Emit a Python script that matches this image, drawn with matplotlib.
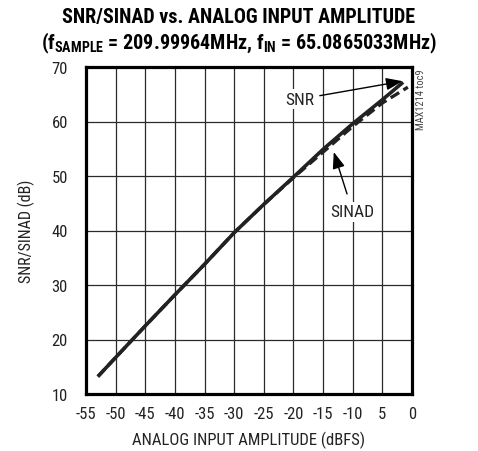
import matplotlib
matplotlib.use("Agg")
import matplotlib.pyplot as plt

# Data (dBFS input amplitude vs. dB)
snr_x = [-53.0, -50.0, -45.0, -40.0, -35.0, -30.0, -25.0, -20.0, -15.0, -10.0, -5.0, -1.5]
snr_y = [13.2, 16.7, 22.5, 28.2, 33.8, 39.6, 44.8, 49.8, 54.9, 59.6, 64.0, 67.2]
sinad_x = [-53.0, -50.0, -45.0, -40.0, -35.0, -30.0, -25.0, -20.0, -15.0, -10.0, -5.0, -0.7]
sinad_y = [13.2, 16.7, 22.5, 28.2, 33.8, 39.6, 44.8, 49.7, 54.4, 59.1, 63.4, 66.3]

x_ticks = [-55, -50, -45, -40, -35, -30, -25, -20, -15, -10, -5, 0]
x_tick_labels = ["-55", "-50", "-45", "-40", "-35", "-30", "-25", "-20", "-15", "-10", "5", "0"]
y_ticks = [10, 20, 30, 40, 50, 60, 70]

COND = ["Roboto Condensed", "DejaVu Sans"]
plt.rcParams["font.family"] = COND
plt.rcParams["mathtext.fontset"] = "custom"
plt.rcParams["mathtext.bf"] = "Roboto Condensed:bold"
plt.rcParams["mathtext.rm"] = "Roboto Condensed"

fig = plt.figure(figsize=(4.78, 4.52), dpi=100)
ax = fig.add_axes([86 / 478, 1 - 395 / 452, 326 / 478, 327 / 452])

ax.plot(snr_x, snr_y, color="#222222", lw=2.6, solid_capstyle="butt", zorder=3)
ax.plot(sinad_x, sinad_y, color="#222222", lw=2.4, ls=(0, (3, 1.5)), zorder=3)

ax.set_xlim(-55, 0)
ax.set_ylim(10, 70)
ax.set_xticks(x_ticks)
ax.set_xticklabels(x_tick_labels)
ax.set_yticks(y_ticks)
ax.tick_params(axis="x", length=0, labelsize=12, pad=9, colors="#222222")
ax.tick_params(axis="y", length=0, labelsize=12, pad=13, colors="#222222")
ax.grid(True, color="#2a2a2a", lw=0.9)
ax.set_axisbelow(True)
for s in ax.spines.values():
    s.set_linewidth(2.3)
    s.set_color("black")

ax.set_xlabel("ANALOG INPUT AMPLITUDE (dBFS)", fontsize=12, labelpad=7, color="#222222")
ax.set_ylabel("SNR/SINAD (dB)", fontsize=11.5, labelpad=12, color="#222222")

# Curve annotations
ax.annotate("SNR", xy=(-1.6, 67.4), xytext=(-18.9, 64.1), fontsize=12.5,
            ha="center", va="center", color="#222222",
            bbox=dict(boxstyle="square,pad=0.15", fc="white", ec="none"),
            arrowprops=dict(arrowstyle="-|>,head_length=0.8,head_width=0.3",
                            color="black", lw=1.0, shrinkA=2, shrinkB=0))
ax.annotate("SINAD", xy=(-13.2, 54.4), xytext=(-10.0, 43.4), fontsize=12.5,
            ha="center", va="center", color="#222222",
            bbox=dict(boxstyle="square,pad=0.15", fc="white", ec="none"),
            arrowprops=dict(arrowstyle="-|>,head_length=0.8,head_width=0.3",
                            color="black", lw=1.0, shrinkA=6, shrinkB=0))

fig.text(421 / 478, 1 - 100 / 452, "MAX1214 toc9", rotation=90, fontsize=7.5,
         ha="center", va="center", color="#444444")

fig.text(0.5, 1 - 18 / 452, "SNR/SINAD vs. ANALOG INPUT AMPLITUDE",
         fontsize=14.5, fontweight="bold", ha="center", va="center")
fig.text(0.5, 1 - 43 / 452,
         r"(f$_{\mathbf{SAMPLE}}$ = 209.99964MHz, f$_{\mathbf{IN}}$ = 65.0865033MHz)",
         fontsize=14.5, fontweight="bold", ha="center", va="center")

fig.savefig("out.png", dpi=100)
